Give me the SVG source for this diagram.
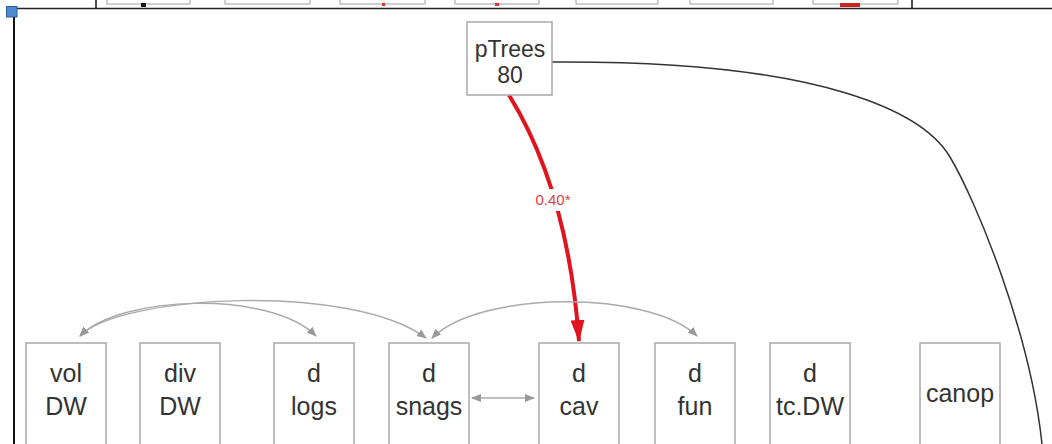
<svg xmlns="http://www.w3.org/2000/svg" width="1052" height="444" viewBox="0 0 1052 444">
<defs>
<style>
.node rect{fill:#fff;stroke:#a8a8a8;stroke-width:1.5}
.node text{font-family:"Liberation Sans",Arial,sans-serif;font-size:25px;fill:#333;text-anchor:middle}
.cov{fill:none;stroke:#aaa;stroke-width:1.5}
.mini{fill:#fff;stroke:#b0b0b0;stroke-width:1.2}
</style>
<marker id="ga" viewBox="0 0 10 10" refX="9" refY="5" markerWidth="10" markerHeight="10" markerUnits="userSpaceOnUse" orient="auto-start-reverse">
<path d="M0,1 L10,5 L0,9 Z" fill="#999"/>
</marker>
<marker id="ra" viewBox="0 0 22 14" refX="21" refY="7" markerWidth="22" markerHeight="14" markerUnits="userSpaceOnUse" orient="auto">
<path d="M0,0 L22,7 L0,14 Z" fill="#e0141e"/>
</marker>
</defs>
<rect width="1052" height="444" fill="#fff"/>

<g id="topstrip">
<rect class="mini" x="107" y="-10" width="83" height="14"/>
<rect class="mini" x="225" y="-10" width="85" height="14"/>
<rect class="mini" x="340" y="-10" width="85" height="14"/>
<rect class="mini" x="455" y="-10" width="84" height="14"/>
<rect class="mini" x="576" y="-10" width="82" height="14"/>
<rect class="mini" x="690" y="-10" width="83" height="14"/>
<rect class="mini" x="813" y="-10" width="85" height="14"/>
<rect x="141" y="3" width="5" height="4" fill="#111"/>
<rect x="382" y="3" width="3" height="3" fill="#d33"/>
<rect x="495" y="3" width="4" height="3" fill="#d33"/>
<rect x="840" y="3" width="20" height="4" fill="#c22"/>
<line x1="96" y1="0" x2="96" y2="8" stroke="#111" stroke-width="1.5"/>
<line x1="912" y1="0" x2="912" y2="8" stroke="#111" stroke-width="1.5"/>
<line x1="6" y1="8.5" x2="1052" y2="8.5" stroke="#222" stroke-width="1.5"/>
<line x1="14" y1="12" x2="14" y2="444" stroke="#111" stroke-width="2"/>
<rect x="6.5" y="6.5" width="10.5" height="10.5" fill="#4d8ad0" stroke="#2c5d9c" stroke-width="1"/>
</g>

<g id="connectors">
<path d="M552,62 C830,60 925,115 950,157 C975,199 1030,330 1042,444" fill="none" stroke="#333" stroke-width="1.5"/>
<path d="M509,95 Q568,190 579,341" fill="none" stroke="#e0141e" stroke-width="4" marker-end="url(#ra)"/>
<rect x="526" y="189" width="54" height="22" fill="#fff"/>
<text x="553" y="205" font-family="Liberation Sans,Arial,sans-serif" font-size="15" fill="#e03a44" text-anchor="middle">0.40*</text>
<path class="cov" d="M80,336 C120,295 350,282 426,338" marker-start="url(#ga)" marker-end="url(#ga)"/>
<path class="cov" d="M80,336 C120,295 270,290 316,336" marker-start="url(#ga)" marker-end="url(#ga)"/>
<path class="cov" d="M432,338 C480,290 650,290 697,336" marker-start="url(#ga)" marker-end="url(#ga)"/>
<line class="cov" x1="472" y1="398" x2="534" y2="398" marker-start="url(#ga)" marker-end="url(#ga)"/>
<line x1="579" y1="441" x2="579" y2="444" stroke="#e0141e" stroke-width="5"/>
</g>

<g id="pTrees" class="node">
<rect x="467" y="22" width="85" height="73"/>
<text x="510" y="57" style="font-size:23px">pTrees</text>
<text x="510" y="83" style="font-size:23px">80</text>
</g>
<g id="volDW" class="node">
<rect x="26" y="343" width="80" height="120"/>
<text x="66" y="382">vol</text>
<text x="66" y="415">DW</text>
</g>
<g id="divDW" class="node">
<rect x="140" y="343" width="80" height="120"/>
<text x="180" y="382">div</text>
<text x="180" y="415">DW</text>
</g>
<g id="dlogs" class="node">
<rect x="274" y="343" width="80" height="120"/>
<text x="314" y="382">d</text>
<text x="314" y="415">logs</text>
</g>
<g id="dsnags" class="node">
<rect x="389" y="343" width="80" height="120"/>
<text x="429" y="382">d</text>
<text x="429" y="415">snags</text>
</g>
<g id="dcav" class="node">
<rect x="539" y="343" width="80" height="120"/>
<text x="579" y="382">d</text>
<text x="579" y="415">cav</text>
</g>
<g id="dfun" class="node">
<rect x="655" y="343" width="80" height="120"/>
<text x="695" y="382">d</text>
<text x="695" y="415">fun</text>
</g>
<g id="dtcDW" class="node">
<rect x="770" y="343" width="80" height="120"/>
<text x="810" y="382">d</text>
<text x="810" y="415">tc.DW</text>
</g>
<g id="canop" class="node">
<rect x="920" y="343" width="80" height="120"/>
<text x="960" y="402">canop</text>
</g>
</svg>
